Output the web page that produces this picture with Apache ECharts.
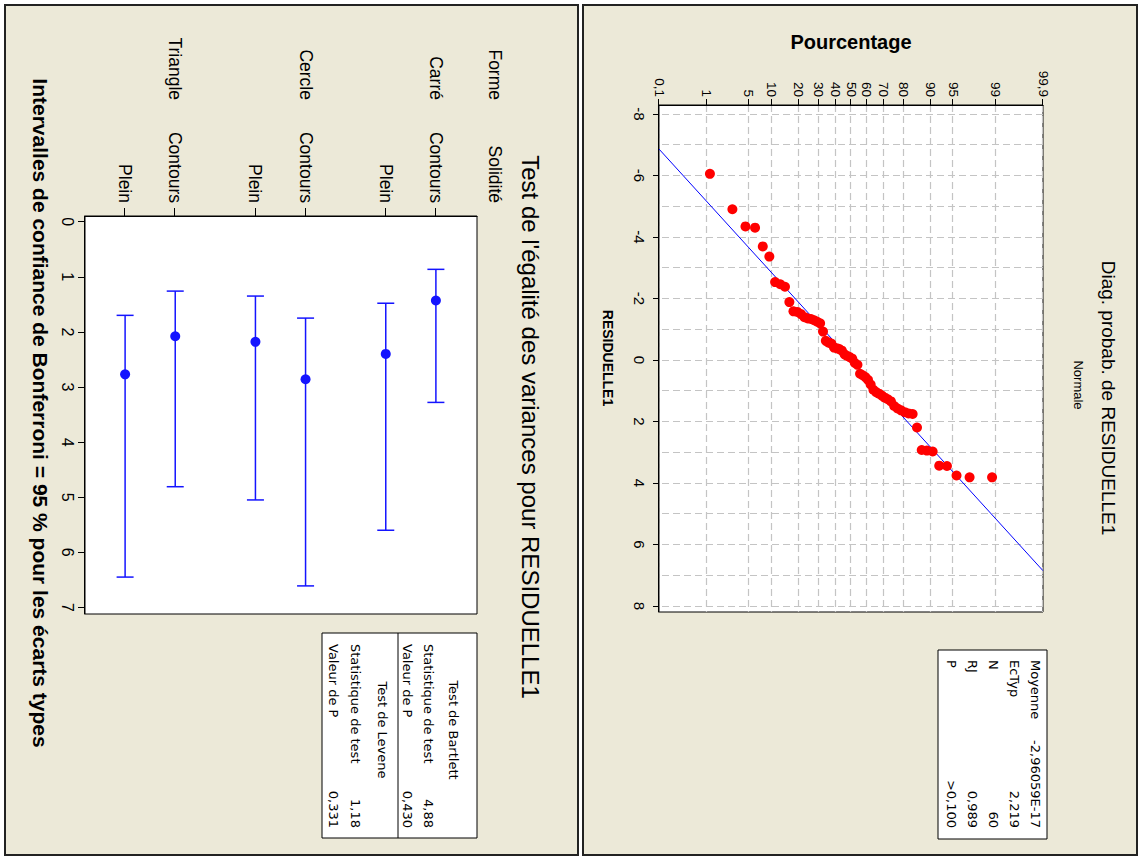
<!DOCTYPE html>
<html><head><meta charset="utf-8">
<script src="https://cdn.jsdelivr.net/npm/echarts@6/dist/echarts.min.js"></script>
<style>
html,body{margin:0;padding:0;width:1141px;height:859px;overflow:hidden;background:#fff}
#wrap{position:absolute;left:0;top:0;width:859px;height:1141px;transform-origin:0 0;transform:translate(1141px,0) rotate(90deg);}
#chart{width:859px;height:1141px}
</style></head><body>
<div id="wrap"><div id="chart"></div></div>
<script>
// ---------- Data: normal probability plot ----------
const residuals = [-6.05,-4.90,-4.34,-4.30,-3.69,-3.36,-2.53,-2.46,-2.38,-1.88,
  -1.58,-1.56,-1.49,-1.39,-1.35,-1.33,-1.29,-1.24,-1.19,-0.92,
  -0.62,-0.56,-0.53,-0.40,-0.38,-0.35,-0.30,-0.18,-0.13,-0.09,
  -0.04,0.10,0.16,0.45,0.50,0.56,0.65,0.80,0.97,1.05,
  1.10,1.16,1.23,1.28,1.35,1.50,1.58,1.64,1.70,1.74,
  1.76,2.20,2.93,2.95,2.98,3.44,3.45,3.76,3.82,3.82];
const probTickValues = [0.1,1,5,10,20,30,40,50,60,70,80,90,95,99,99.9];
const probTickLabels = ['0,1','1','5','10','20','30','40','50','60','70','80','90','95','99','99,9'];
const residTickValues = [-8,-6,-4,-2,0,2,4,6,8];
const residGridValues = [-8,-7,-6,-5,-4,-3,-2,-1,0,1,2,3,4,5,6,7,8];
const fitMean = -2.96059e-17;
const fitSd = 2.219;
const normStatNames = ['Moyenne','EcTyp','N','RJ','P'];
const normStatValues = ['-2,96059E-17','2,219','60','0,989','>0,100'];

// ---------- Data: test of equal variances ----------
const formes = ['Carré','Carré','Cercle','Cercle','Triangle','Triangle'];
const solidites = ['Contours','Plein','Contours','Plein','Contours','Plein'];
const sigmaEst = [1.43,2.40,2.86,2.18,2.08,2.77];
const ciLower = [0.865,1.48,1.75,1.35,1.26,1.70];
const ciUpper = [3.28,5.60,6.61,5.05,4.81,6.45];
const bonfTickValues = [0,1,2,3,4,5,6,7];
const bartlettNames = ['Statistique de test','Valeur de P'];
const bartlettValues = ['4,88','0,430'];
const leveneNames = ['Statistique de test','Valeur de P'];
const leveneValues = ['1,18','0,331'];

// ---------- helpers ----------
function invNorm(p){
  const a=[-3.969683028665376e+01,2.209460984245205e+02,-2.759285104469687e+02,1.383577518672690e+02,-3.066479806614716e+01,2.506628277459239e+00];
  const b=[-5.447609879822406e+01,1.615858368580409e+02,-1.556989798598866e+02,6.680131188771972e+01,-1.328068155288572e+01];
  const c=[-7.784894002430293e-03,-3.223964580411365e-01,-2.400758277161838e+00,-2.549732539343734e+00,4.374664141464968e+00,2.938163982698783e+00];
  const d=[7.784695709041462e-03,3.224671290700398e-01,2.445134137142996e+00,3.754408661907416e+00];
  const pl=0.02425, ph=1-pl; let q,r;
  if(p<pl){q=Math.sqrt(-2*Math.log(p));return (((((c[0]*q+c[1])*q+c[2])*q+c[3])*q+c[4])*q+c[5])/((((d[0]*q+d[1])*q+d[2])*q+d[3])*q+1);}
  if(p<=ph){q=p-0.5;r=q*q;return (((((a[0]*r+a[1])*r+a[2])*r+a[3])*r+a[4])*r+a[5])*q/(((((b[0]*r+b[1])*r+b[2])*r+b[3])*r+b[4])*r+1);}
  q=Math.sqrt(-2*Math.log(1-p));return -(((((c[0]*q+c[1])*q+c[2])*q+c[3])*q+c[4])*q+c[5])/((((d[0]*q+d[1])*q+d[2])*q+d[3])*q+1);
}
const probZ = probTickValues.map(p => invNorm(p/100));
const n = residuals.length;
const probPoints = residuals.map((r,i) => [r, invNorm((i+1-0.3)/(n+0.4))]);
const zLo = probZ[0], zHi = probZ[probZ.length-1];
const fitLine = [[fitMean + fitSd*zLo, zLo],[fitMean + fitSd*zHi, zHi]];
const rowPos = formes.map((f,i) => i + Math.floor(i/2)*0.6);

const AR = 'Liberation Sans, Arial, sans-serif';
const TA = 'DejaVu Sans, Tahoma, sans-serif';
const BLUE = '#1414ff';
const BEIGE = '#ece9d8';
const dash = {color:'#c4c4c4', width:1.2, type:[7,4]};

function txt(x,y,text,opt){
  opt = opt||{};
  return {type:'text', x:x, y:y, rotation:opt.rot||0, z:50, silent:true,
    style:{text:text, fill:'#000', font:(opt.weight||'normal')+' '+(opt.size||13)+'px '+(opt.family||AR),
      align:opt.align||'left', verticalAlign:'middle'}};
}

const graphics = [
  // panels
  {type:'rect', z:-10, silent:true, shape:{x:5,y:4,width:850,height:554}, style:{fill:BEIGE, stroke:'#222', lineWidth:2}},
  {type:'rect', z:-10, silent:true, shape:{x:5,y:563,width:850,height:573}, style:{fill:BEIGE, stroke:'#222', lineWidth:2}},
  // prob plot texts
  txt(398,33,'Diag. probab. de RESIDUELLE1',{size:19,align:'center'}),
  txt(385,63,'Normale',{size:13,align:'center'}),
  txt(42,290,'Pourcentage',{size:20,weight:'bold',align:'center',rot:Math.PI/2}),
  txt(358,533,'RESIDUELLE1',{size:14,weight:'bold',align:'center'}),
  // prob stats box
  {type:'rect', z:40, silent:true, shape:{x:650,y:94,width:189,height:109}, style:{fill:'#fff', stroke:'#000', lineWidth:1}},
  // variance panel texts
  txt(427,611,"Test de l'égalité des variances pour RESIDUELLE1",{size:24,align:'center'}),
  txt(100,646,'Forme',{size:17.5,align:'right'}),
  txt(203,646,'Solidité',{size:17.5,align:'right'}),
  txt(413,1101,'Intervalles de confiance de Bonferroni = 95 % pour les écarts types',{size:21,weight:'bold',align:'center'}),
  {type:'rect', z:40, silent:true, shape:{x:633,y:664,width:205,height:155}, style:{fill:'#fff', stroke:'#000', lineWidth:1}},
  {type:'line', z:41, silent:true, shape:{x1:633,y1:743,x2:838,y2:743}, style:{stroke:'#000', lineWidth:1}},
  txt(730,688,'Test de Bartlett',{size:13,family:TA,align:'center'}),
  txt(730,759,'Test de Levene',{size:13,family:TA,align:'center'})
];
normStatNames.forEach((s,i) => {
  graphics.push(txt(660,106+i*21,s,{size:13,family:TA}));
  graphics.push(txt(828,106+i*21,normStatValues[i],{size:13,family:TA,align:'right'}));
});
bartlettNames.forEach((s,i) => {
  graphics.push(txt(644,713+i*21,s,{size:13,family:TA}));
  graphics.push(txt(828,713+i*21,bartlettValues[i],{size:13,family:TA,align:'right'}));
});
leveneNames.forEach((s,i) => {
  graphics.push(txt(644,786+i*22,s,{size:13,family:TA}));
  graphics.push(txt(828,786+i*22,leveneValues[i],{size:13,family:TA,align:'right'}));
});

const chart = echarts.init(document.getElementById('chart'), null, {renderer:'svg', width:859, height:1141});
chart.setOption({
  animation:false,
  backgroundColor:'#ffffff',
  grid:[
    {left:105, top:98, width:507, height:384, show:true, backgroundColor:'#fff', borderColor:'#000', borderWidth:1},
    {left:216, top:664, width:398, height:392, show:true, backgroundColor:'#fff', borderColor:'#000', borderWidth:1}
  ],
  xAxis:[
    {type:'value', gridIndex:0, min:-8.29, max:8.2, position:'bottom',
      axisLine:{onZero:false, lineStyle:{color:'#000'}},
      axisTick:{customValues:residTickValues, length:6, lineStyle:{color:'#000'}},
      axisLabel:{customValues:residTickValues, margin:12, color:'#000', fontFamily:AR, fontSize:15,
        formatter:v => String(v)},
      splitLine:{show:false}},
    {type:'value', gridIndex:0, min:-8.29, max:8.2, position:'bottom',
      axisLine:{show:false}, axisTick:{show:false, customValues:residGridValues},
      axisLabel:{show:false}, splitLine:{show:true, lineStyle:dash}},
    {type:'value', gridIndex:1, min:-0.103, max:7.12, position:'bottom',
      axisLine:{onZero:false, lineStyle:{color:'#000'}},
      axisTick:{customValues:bonfTickValues, length:7, lineStyle:{color:'#000'}},
      axisLabel:{customValues:bonfTickValues, margin:10, color:'#000', fontFamily:AR, fontSize:16},
      splitLine:{show:false}}
  ],
  yAxis:[
    {type:'value', gridIndex:0, min:zLo-1e-9, max:zHi+1e-9, position:'left',
      axisLine:{onZero:false, lineStyle:{color:'#000'}},
      axisTick:{customValues:probZ, length:6, lineStyle:{color:'#000'}},
      axisLabel:{customValues:probZ, margin:8, color:'#000', fontFamily:AR, fontSize:13.5,
        formatter:v => { const i = probZ.findIndex(z => Math.abs(z-v)<1e-6); return i>=0 ? probTickLabels[i] : ''; }},
      splitLine:{show:true, lineStyle:dash}},
    {type:'value', gridIndex:1, inverse:true, min:-0.82, max:7.0, position:'left',
      axisLine:{onZero:false, lineStyle:{color:'#000'}},
      axisTick:{customValues:rowPos, length:8, lineStyle:{color:'#000'}},
      axisLabel:{customValues:rowPos, margin:13, color:'#000', fontFamily:AR, fontSize:17.5,
        formatter:v => { const i = rowPos.findIndex(p => Math.abs(p-v)<1e-6); return i>=0 ? solidites[i] : ''; }},
      splitLine:{show:false}},
    {type:'value', gridIndex:1, inverse:true, min:-0.82, max:7.0, position:'left',
      axisLine:{show:false}, axisTick:{show:false},
      axisLabel:{customValues:rowPos.filter((p,i)=>i%2===0), margin:116, color:'#000', fontFamily:AR, fontSize:17.5,
        formatter:v => { const i = rowPos.findIndex(p => Math.abs(p-v)<1e-6); return i>=0 ? formes[i] : ''; }},
      splitLine:{show:false}}
  ],
  series:[
    {type:'line', xAxisIndex:0, yAxisIndex:0, data:fitLine, showSymbol:false, silent:true,
      lineStyle:{color:'#0000ff', width:1}, z:3},
    {type:'scatter', xAxisIndex:0, yAxisIndex:0, data:probPoints, symbol:'circle', symbolSize:10,
      itemStyle:{color:'#ff0000', opacity:1}, z:4},
    {type:'custom', xAxisIndex:2, yAxisIndex:1, data:rowPos.map((p,i)=>[p, ciLower[i], ciUpper[i]]),
      encode:{x:[1,2], y:0}, z:3,
      renderItem:(params, api) => {
        const pos = api.value(0), lo = api.value(1), hi = api.value(2);
        const p1 = api.coord([lo,pos]), p2 = api.coord([hi,pos]);
        const h = 8.5; const st = {stroke:BLUE, lineWidth:1.5, fill:null};
        return {type:'group', children:[
          {type:'line', shape:{x1:p1[0],y1:p1[1],x2:p2[0],y2:p2[1]}, style:st},
          {type:'line', shape:{x1:p1[0],y1:p1[1]-h,x2:p1[0],y2:p1[1]+h}, style:st},
          {type:'line', shape:{x1:p2[0],y1:p2[1]-h,x2:p2[0],y2:p2[1]+h}, style:st}
        ]};
      }},
    {type:'scatter', xAxisIndex:2, yAxisIndex:1, data:rowPos.map((p,i)=>[sigmaEst[i], p]),
      symbol:'circle', symbolSize:10, itemStyle:{color:BLUE, opacity:1}, z:4}
  ],
  graphic:graphics
});
</script>
</body></html>
